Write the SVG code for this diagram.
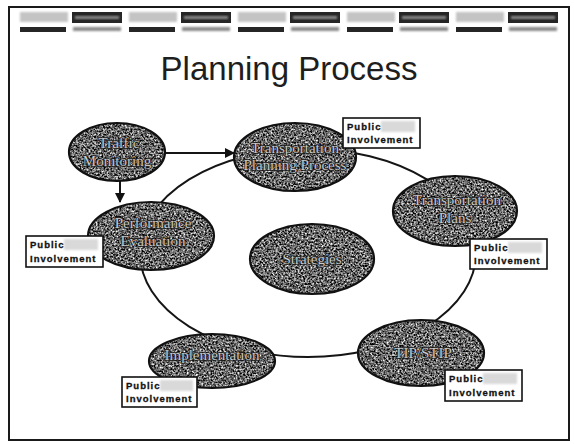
<svg xmlns="http://www.w3.org/2000/svg" width="574" height="444" viewBox="0 0 574 444">
  <style>
    .frame { fill: #ffffff; stroke: #1a1a1a; stroke-width: 2; }
    .title { font-family: "Liberation Sans", Arial, sans-serif; font-size: 33px; fill: #1e1e1e; text-anchor: middle; }
    .ring { fill: none; stroke: #151515; stroke-width: 2; }
    .link { fill: none; stroke: #151515; stroke-width: 2; }
    .body { filter: url(#grain); fill: #000; }
    .rim { fill: none; stroke: #111; stroke-width: 2.2; }
    .lbl { font-family: "Liberation Serif", "Times New Roman", serif; font-size: 15px; fill: #c8c8c8; stroke: #1c1c1c; stroke-width: 1.6; paint-order: stroke; text-anchor: middle; }
    .pbox { fill: #ffffff; stroke: #111; stroke-width: 1.6; }
    .ptxt { font-family: "Liberation Sans", Arial, sans-serif; font-weight: bold; font-size: 9.5px; letter-spacing: 1px; fill: #111; stroke: #111; stroke-width: 0.3; }
    .smudge { fill: #d9d9d9; filter: url(#soft); }
    .hdr-lt { fill: #c4c4c4; filter: url(#soft); }
    .hdr-dk { fill: #262626; }
    .hdr-md { fill: #8a8a8a; filter: url(#soft); }
  </style>
  <defs>
    <!-- speckled grey fill used inside every oval -->
    <filter id="grain" x="-5%" y="-5%" width="110%" height="110%" color-interpolation-filters="sRGB">
      <feTurbulence type="fractalNoise" baseFrequency="0.55" numOctaves="2" seed="7" result="noise"/>
      <feColorMatrix in="noise" type="matrix" values="1.9 0 0 0 -0.55  1.9 0 0 0 -0.55  1.9 0 0 0 -0.55  0 0 0 0 1" result="grey"/>
      <feComposite in="grey" in2="SourceGraphic" operator="in"/>
    </filter>
    <filter id="soft" x="-10%" y="-30%" width="120%" height="160%">
      <feGaussianBlur stdDeviation="0.8"/>
    </filter>
    <marker id="head" viewBox="0 0 10 10" refX="9" refY="5" markerWidth="5" markerHeight="5" orient="auto" markerUnits="strokeWidth">
      <path d="M0,0 L10,5 L0,10 z" fill="#111"/>
    </marker>
  </defs>

  <!-- slide frame -->
  <rect class="frame" x="9" y="7" width="560" height="433"/>

  <!-- header strip of five banner tiles -->
  <g id="header">
    <g transform="translate(18,0)">
      <rect class="hdr-lt" x="2" y="12" width="48" height="10"/>
      <rect class="hdr-dk" x="54" y="12" width="50" height="11"/>
      <rect class="hdr-md" x="57" y="16" width="44" height="3"/>
      <rect class="hdr-dk" x="2" y="27" width="46" height="5"/>
      <rect class="hdr-md" x="55" y="27" width="48" height="4"/>
    </g>
    <g transform="translate(127,0)">
      <rect class="hdr-lt" x="2" y="12" width="48" height="10"/>
      <rect class="hdr-dk" x="54" y="12" width="50" height="11"/>
      <rect class="hdr-md" x="57" y="16" width="44" height="3"/>
      <rect class="hdr-dk" x="2" y="27" width="46" height="5"/>
      <rect class="hdr-md" x="55" y="27" width="48" height="4"/>
    </g>
    <g transform="translate(236,0)">
      <rect class="hdr-lt" x="2" y="12" width="48" height="10"/>
      <rect class="hdr-dk" x="54" y="12" width="50" height="11"/>
      <rect class="hdr-md" x="57" y="16" width="44" height="3"/>
      <rect class="hdr-dk" x="2" y="27" width="46" height="5"/>
      <rect class="hdr-md" x="55" y="27" width="48" height="4"/>
    </g>
    <g transform="translate(345,0)">
      <rect class="hdr-lt" x="2" y="12" width="48" height="10"/>
      <rect class="hdr-dk" x="54" y="12" width="50" height="11"/>
      <rect class="hdr-md" x="57" y="16" width="44" height="3"/>
      <rect class="hdr-dk" x="2" y="27" width="46" height="5"/>
      <rect class="hdr-md" x="55" y="27" width="48" height="4"/>
    </g>
    <g transform="translate(454,0)">
      <rect class="hdr-lt" x="2" y="12" width="48" height="10"/>
      <rect class="hdr-dk" x="54" y="12" width="50" height="11"/>
      <rect class="hdr-md" x="57" y="16" width="44" height="3"/>
      <rect class="hdr-dk" x="2" y="27" width="46" height="5"/>
      <rect class="hdr-md" x="55" y="27" width="48" height="4"/>
    </g>
  </g>

  <text class="title" x="289" y="80">Planning Process</text>

  <!-- cycle ring and arrows -->
  <g id="connectors">
    <ellipse class="ring" cx="308" cy="253" rx="168" ry="104"/>
    <line class="link" x1="166" y1="153" x2="234" y2="153" marker-end="url(#head)"/>
    <line class="link" x1="120" y1="181" x2="120" y2="202" marker-end="url(#head)"/>
  </g>

  <g id="monitoring">
    <ellipse class="body" cx="117" cy="152" rx="48" ry="29"/>
    <ellipse class="rim" cx="117" cy="152" rx="48" ry="29"/>
    <text class="lbl" x="119" y="148">Traffic</text>
    <text class="lbl" x="117" y="166">Monitoring</text>
  </g>

  <g id="planning">
    <ellipse class="body" cx="295" cy="157" rx="61" ry="34"/>
    <ellipse class="rim" cx="295" cy="157" rx="61" ry="34"/>
    <text class="lbl" x="295" y="153">Transportation</text>
    <text class="lbl" x="295" y="170">Planning Process</text>
  </g>

  <g id="plans">
    <ellipse class="body" cx="455" cy="211" rx="62" ry="35"/>
    <ellipse class="rim" cx="455" cy="211" rx="62" ry="35"/>
    <text class="lbl" x="457" y="205">Transportation</text>
    <text class="lbl" x="455" y="223">Plans</text>
  </g>

  <g id="evaluation">
    <ellipse class="body" cx="151" cy="236" rx="63" ry="34"/>
    <ellipse class="rim" cx="151" cy="236" rx="63" ry="34"/>
    <text class="lbl" x="153" y="228">Performance</text>
    <text class="lbl" x="153" y="246">Evaluation</text>
  </g>

  <g id="strategies">
    <ellipse class="body" cx="312" cy="259" rx="62" ry="35"/>
    <ellipse class="rim" cx="312" cy="259" rx="62" ry="35"/>
    <text class="lbl" x="312" y="264">Strategies</text>
  </g>

  <g id="implementation">
    <ellipse class="body" cx="212" cy="361" rx="63" ry="27"/>
    <ellipse class="rim" cx="212" cy="361" rx="63" ry="27"/>
    <text class="lbl" x="212" y="360">Implementation</text>
  </g>

  <g id="tip">
    <ellipse class="body" cx="421" cy="353" rx="63" ry="33"/>
    <ellipse class="rim" cx="421" cy="353" rx="63" ry="33"/>
    <text class="lbl" x="423" y="358">TIP/STIP</text>
  </g>

  <!-- public involvement call-outs -->
  <g id="public-1">
    <rect class="pbox" x="343" y="118" width="77" height="30"/>
    <rect class="smudge" x="381" y="121" width="34" height="11"/>
    <text class="ptxt" x="347" y="130">Public</text>
    <text class="ptxt" x="347" y="143">Involvement</text>
  </g>
  <g id="public-2">
    <rect class="pbox" x="470" y="239" width="77" height="30"/>
    <rect class="smudge" x="508" y="242" width="34" height="11"/>
    <text class="ptxt" x="474" y="251">Public</text>
    <text class="ptxt" x="474" y="264">Involvement</text>
  </g>
  <g id="public-3">
    <rect class="pbox" x="26" y="236" width="77" height="31"/>
    <rect class="smudge" x="64" y="239" width="34" height="11"/>
    <text class="ptxt" x="30" y="248">Public</text>
    <text class="ptxt" x="30" y="262">Involvement</text>
  </g>
  <g id="public-4">
    <rect class="pbox" x="122" y="377" width="75" height="30"/>
    <rect class="smudge" x="160" y="380" width="33" height="11"/>
    <text class="ptxt" x="126" y="389">Public</text>
    <text class="ptxt" x="126" y="402">Involvement</text>
  </g>
  <g id="public-5">
    <rect class="pbox" x="445" y="370" width="77" height="31"/>
    <rect class="smudge" x="483" y="373" width="34" height="11"/>
    <text class="ptxt" x="449" y="382">Public</text>
    <text class="ptxt" x="449" y="396">Involvement</text>
  </g>
</svg>
